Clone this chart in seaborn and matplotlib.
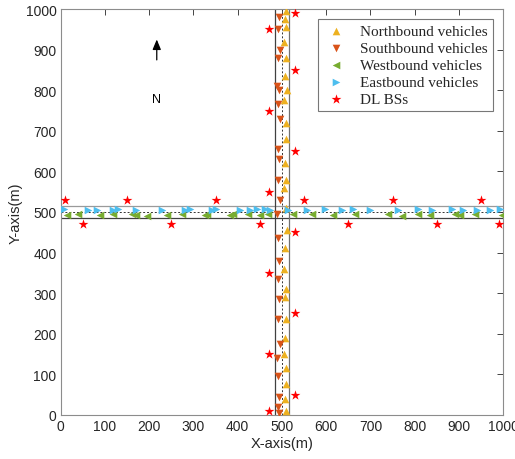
import numpy as np
import pandas as pd
import matplotlib
matplotlib.use("Agg")
import matplotlib.pyplot as plt
import seaborn as sns

# ---- data ----
north_x = [508, 506, 510, 505, 509, 507, 511, 504, 508, 510, 506, 509, 505, 508, 511, 507, 504, 509, 506, 510, 507, 505, 509, 508, 506, 510]
north_y = [995, 975, 955, 920, 880, 835, 800, 775, 720, 680, 620, 580, 560, 510, 455, 410, 360, 310, 290, 235, 190, 150, 115, 75, 40, 10]
south_x = [493, 490, 495, 491, 489, 494, 492, 496, 490, 493, 491, 495, 489, 492, 494, 490, 493, 491, 495, 489, 492, 494, 490, 493]
south_y = [980, 950, 900, 880, 810, 800, 765, 730, 655, 630, 580, 530, 495, 435, 380, 335, 285, 235, 175, 140, 95, 45, 20, 5]
west_x = [13, 39, 88, 118, 160, 171, 194, 239, 273, 326, 330, 382, 389, 424, 450, 469, 525, 567, 616, 665, 740, 771, 808, 835, 891, 903, 937, 997]
west_y = [493, 495, 492, 495, 496, 493, 491, 492, 494, 493, 495, 492, 494, 496, 492, 494, 494, 495, 492, 494, 494, 491, 495, 493, 494, 492, 495, 493]
east_x = [7, 62, 81, 118, 130, 171, 228, 280, 292, 341, 352, 405, 428, 444, 462, 473, 514, 556, 597, 635, 661, 699, 763, 808, 839, 884, 910, 940, 971, 993]
east_y = [507, 506, 504, 505, 508, 506, 505, 504, 508, 505, 507, 505, 506, 508, 507, 505, 506, 505, 507, 505, 508, 506, 505, 507, 505, 508, 506, 505, 506, 507]
bs_x = [10, 150, 350, 550, 750, 950, 50, 250, 450, 650, 850, 990,
        470, 470, 470, 470, 470, 470, 530, 530, 530, 530, 530, 530]
bs_y = [530, 530, 530, 530, 530, 530, 470, 470, 470, 470, 470, 470,
        950, 750, 550, 350, 150, 10, 990, 850, 650, 450, 250, 50]
ticks = list(range(0, 1001, 100))
road_edges = [485, 515]
road_center = 500

groups = ["Northbound vehicles", "Southbound vehicles", "Westbound vehicles", "Eastbound vehicles", "DL BSs"]
df = pd.concat([
    pd.DataFrame({"x": north_x, "y": north_y, "g": groups[0]}),
    pd.DataFrame({"x": south_x, "y": south_y, "g": groups[1]}),
    pd.DataFrame({"x": west_x, "y": west_y, "g": groups[2]}),
    pd.DataFrame({"x": east_x, "y": east_y, "g": groups[3]}),
    pd.DataFrame({"x": bs_x, "y": bs_y, "g": groups[4]}),
], ignore_index=True)

palette = {groups[0]: "#EDB120", groups[1]: "#D95319", groups[2]: "#77AC30",
           groups[3]: "#4DBEEE", groups[4]: "#FF0000"}
markers = {groups[0]: "^", groups[1]: "v", groups[2]: "<", groups[3]: ">", groups[4]: "*"}
sizes = {groups[0]: 30, groups[1]: 30, groups[2]: 30, groups[3]: 30, groups[4]: 55}

sns.set_style("white")
plt.rcParams["font.family"] = ["Liberation Sans", "DejaVu Sans"]

fig = plt.figure(figsize=(5.15, 4.60), dpi=100)
ax = fig.add_axes([0.118, 0.096, 0.859, 0.882])

# roads
ax.axhline(road_edges[0], color="#404040", lw=0.9, zorder=1)
ax.axhline(road_edges[1], color="#9a9a9a", lw=0.9, zorder=1)
ax.axvline(road_edges[0], color="#404040", lw=0.9, zorder=1)
ax.axvline(road_edges[1], color="#707070", lw=0.9, zorder=1)
ax.axhline(road_center, color="#333333", lw=0.7, ls=(0, (2, 2)), zorder=1)
ax.axvline(road_center, color="#333333", lw=0.7, ls=(0, (2, 2)), zorder=1)

for g in groups:
    sub = df[df["g"] == g]
    sns.scatterplot(data=sub, x="x", y="y", ax=ax, color=palette[g], marker=markers[g],
                    s=sizes[g], linewidth=0, label=g, zorder=3 if g != groups[4] else 4)

ax.set_xlim(0, 1000)
ax.set_ylim(0, 1000)
ax.set_xticks(ticks)
ax.set_yticks(ticks)
ax.set_xlabel("X-axis(m)", fontsize=10.5, labelpad=2)
ax.set_ylabel("Y-axis(m)", fontsize=10.5, labelpad=2)
ax.tick_params(axis="both", which="both", direction="in", length=4, width=0.6,
               labelsize=10, colors="#262626", top=True, right=True, pad=3)
for s in ax.spines.values():
    s.set_color("#8c8c8c")
    s.set_linewidth(0.8)

# north arrow
ax.annotate("", xy=(217, 932), xytext=(217, 868),
            arrowprops=dict(arrowstyle="-|>,head_length=0.6,head_width=0.25", color="black", lw=0.9))
ax.text(217, 778, "N", ha="center", va="center", fontsize=9, color="black")

leg = ax.legend(loc="upper right", bbox_to_anchor=(0.977, 0.976), frameon=True, fancybox=False,
                prop={"family": "Liberation Serif", "size": 11}, handletextpad=0.8,
                borderpad=0.35, labelspacing=0.22, handlelength=1.6, borderaxespad=0.0)
leg.get_frame().set_edgecolor("#555555")
leg.get_frame().set_linewidth(0.8)

fig.savefig("out.png", dpi=100)
